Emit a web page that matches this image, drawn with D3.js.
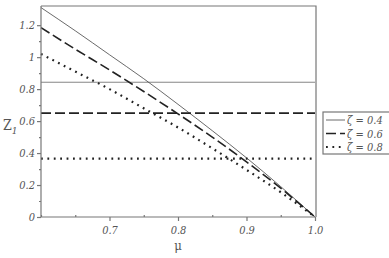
<!DOCTYPE html>
<html>
<head>
<meta charset="utf-8">
<script src="https://cdn.jsdelivr.net/npm/d3@7"></script>
<style>
  body { margin: 0; background: #fff; }
</style>
</head>
<body>
<div id="canvas"></div>
<script>
"use strict"

// data
let mu = [0.6, 0.65, 0.7, 0.75, 0.8, 0.85, 0.9, 0.95, 1.0];
let z04 = [1.31, 1.165, 1.015, 0.865, 0.705, 0.54, 0.37, 0.19, 0];
let z06 = [1.185, 1.05, 0.92, 0.785, 0.645, 0.50, 0.345, 0.18, 0];
let z08 = [1.02, 0.91, 0.80, 0.68, 0.56, 0.43, 0.295, 0.155, 0];
let levels = [0.843, 0.65, 0.365];
let zetas = ["0.4", "0.6", "0.8"];
let xTicks = [0.7, 0.8, 0.9, 1.0];
let yTicks = [0, 0.2, 0.4, 0.6, 0.8, 1, 1.2];

let drawingWidth = 389;
let drawingHeight = 258;
let serif = "'DejaVu Serif Condensed', 'DejaVu Serif', serif";

let drawing = d3.select("#canvas")
    .append("svg")
    .attr("width", drawingWidth)
    .attr("height", drawingHeight);

let x = d3.scaleLinear().domain([0.6, 1.0]).range([41, 315]);
let y = d3.scaleLinear().domain([0, 1.32]).range([217, 6]);

let axisColor = "#777";
let textColor = "#555";

// frame (top and right)
drawing.append("path")
    .attr("d", `M${x(0.6)},${y(1.32)}H${x(1.0)+1}V${y(0)}`)
    .attr("fill", "none")
    .attr("stroke", axisColor)
    .attr("stroke-width", 1.2);

// line styles per series
let styles = [
    {width: 0.8, dash: null, color: "#444"},
    {width: 1.6, dash: "10,4", color: "#222"},
    {width: 2.2, dash: "1.8,4.6", color: "#222"}
];

let series = [z04, z06, z08];

let line = d3.line()
    .x(d => x(d[0]))
    .y(d => y(d[1]))
    .curve(d3.curveMonotoneX);

series.forEach((s, i) => {
    let st = styles[i];
    drawing.append("line")
        .attr("x1", x(0.6))
        .attr("x2", x(1.0))
        .attr("y1", y(levels[i]))
        .attr("y2", y(levels[i]))
        .attr("stroke", i == 0 ? "#666" : st.color)
        .attr("stroke-width", st.width)
        .attr("stroke-dasharray", st.dash);

    drawing.append("path")
        .attr("d", line(mu.map((m, j) => [m, s[j]])))
        .attr("fill", "none")
        .attr("stroke", st.color)
        .attr("stroke-width", st.width)
        .attr("stroke-dasharray", st.dash);
});

// left axis
let yAxis = drawing.append("g")
    .attr("transform", `translate(${x(0.6)},0)`)
    .call(d3.axisLeft(y).tickValues(yTicks).tickSize(4).tickPadding(2)
        .tickFormat(d => d == 0 || d == 1 ? d3.format("d")(d) : d3.format(".1f")(d)));
yAxis.select(".domain").remove();
yAxis.append("line")
    .attr("y1", y(1.32)).attr("y2", y(0));
let yMinor = drawing.append("g")
    .attr("transform", `translate(${x(0.6)},0)`)
    .call(d3.axisLeft(y).tickValues([0.1, 0.3, 0.5, 0.7, 0.9, 1.1]).tickSize(2).tickFormat(""));
yMinor.select(".domain").remove();

// bottom axis
let xAxis = drawing.append("g")
    .attr("transform", `translate(0,${y(0)})`)
    .call(d3.axisBottom(x).tickValues(xTicks).tickSize(4).tickPadding(5)
        .tickFormat(d3.format(".1f")));
xAxis.select(".domain").remove();
xAxis.append("line")
    .attr("x1", x(0.6)).attr("x2", x(1.0));
let xMinor = drawing.append("g")
    .attr("transform", `translate(0,${y(0)})`)
    .call(d3.axisTop(x).tickValues([0.6, 0.65, 0.75, 0.85, 0.95]).tickSize(2).tickFormat(""));
xMinor.select(".domain").remove();

drawing.selectAll("g").attr("font-family", serif);
drawing.selectAll("g line")
    .attr("stroke", axisColor)
    .attr("stroke-width", 1.2);
drawing.selectAll("g text")
    .attr("fill", textColor)
    .attr("font-size", 11)
    .attr("font-family", serif)
    .attr("font-style", "italic");

// axis titles
let zLabel = drawing.append("text")
    .attr("x", 3)
    .attr("y", 130)
    .attr("font-family", serif)
    .attr("font-size", 14)
    .attr("fill", textColor);
zLabel.append("tspan").text("Z");
zLabel.append("tspan").attr("dy", 4).attr("font-size", 10).attr("font-style", "italic").text("1");

drawing.append("text")
    .attr("x", x(0.8))
    .attr("y", 250)
    .attr("text-anchor", "middle")
    .attr("font-family", serif)
    .attr("font-size", 13)
    .attr("fill", textColor)
    .text("μ");

// legend
let legend = drawing.append("g").attr("transform", "translate(323,112)");
legend.append("rect")
    .attr("width", 70)
    .attr("height", 42)
    .attr("fill", "#fff")
    .attr("stroke", axisColor)
    .attr("stroke-width", 1.2);
zetas.forEach((z, i) => {
    let st = styles[i];
    legend.append("line")
        .attr("x1", 3).attr("x2", 22)
        .attr("y1", 8 + i * 13.5).attr("y2", 8 + i * 13.5)
        .attr("stroke", st.color)
        .attr("stroke-width", st.width)
        .attr("stroke-dasharray", st.dash);
    legend.append("text")
        .attr("x", 24)
        .attr("y", 12 + i * 13.5)
        .attr("font-family", serif)
        .attr("font-size", 11)
        .attr("font-style", "italic")
        .attr("fill", textColor)
        .text("ζ = " + z);
});
</script>
</body>
</html>
